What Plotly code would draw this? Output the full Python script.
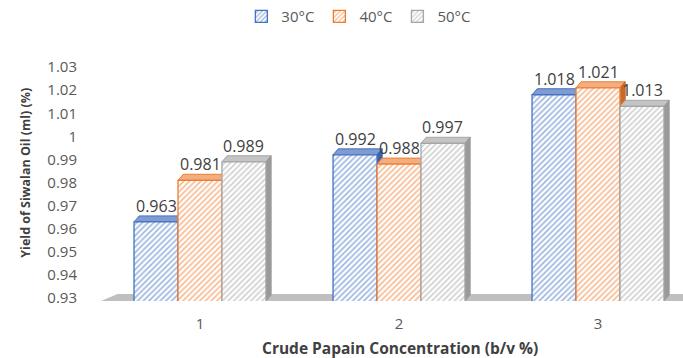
import plotly.graph_objects as go

categories = [1, 2, 3]
series_names = ["30°C", "40°C", "50°C"]
yield_30 = [0.963, 0.992, 1.018]
yield_40 = [0.981, 0.988, 1.021]
yield_50 = [0.989, 0.997, 1.013]
y_ticks = [0.93, 0.94, 0.95, 0.96, 0.97, 0.98, 0.99, 1.00, 1.01, 1.02, 1.03]
y_tick_text = ["0.93", "0.94", "0.95", "0.96", "0.97", "0.98", "0.99", "1", "1.01", "1.02", "1.03"]

series = [yield_30, yield_40, yield_50]
line_colors = ["#4472C4", "#ED7D31", "#A5A5A5"]
light_colors = ["#E4EBF7", "#FDEBDF", "#F2F2F2"]
cap_colors = ["#7F9BD0", "#F2AE80", "#C4C4C4"]
side_colors = ["#3A63AA", "#C9692A", "#9A9A9A"]

bw = 0.221
dx = 0.026   # depth offset in x units
dy = 0.0026  # depth offset in y units
base = 0.9288
font = "Open Sans"

fig = go.Figure()
shapes = []
annotations = []

# floor
shapes.append(dict(type="path", xref="paper", yref="y",
                   path="M 0.03,0.9318 L 1,0.9318 L 1,0.9286 L 0,0.9286 Z",
                   fillcolor="#BFBFBF", line=dict(width=0), layer="below"))

for i, (name, vals) in enumerate(zip(series_names, series)):
    off = -1.5 * bw + i * bw
    fig.add_trace(go.Bar(
        x=categories, y=vals, name=name, width=bw, offset=off,
        marker=dict(color=light_colors[i],
                    line=dict(color=line_colors[i], width=1.3),
                    pattern=dict(shape="/", fgcolor=line_colors[i], bgcolor="white",
                                 size=4, solidity=0.45, fillmode="overlay")),
    ))
    for c, v in zip(categories, vals):
        xl = c + off
        xr = xl + bw
        shapes.append(dict(type="path", xref="x", yref="y", layer="below",
                           path=f"M {xl},{v} L {xl+dx},{v+dy} L {xr+dx},{v+dy} L {xr},{v} Z",
                           fillcolor=cap_colors[i], line=dict(color=line_colors[i], width=1)))
        shapes.append(dict(type="path", xref="x", yref="y", layer="below",
                           path=f"M {xr},{base} L {xr+dx},{base+dy} L {xr+dx},{v+dy} L {xr},{v} Z",
                           fillcolor=side_colors[i], line=dict(color=side_colors[i], width=1)))
        annotations.append(dict(x=xl + bw / 2, y=v, xref="x", yref="y", text=f"{v:.3f}",
                                showarrow=False, yanchor="middle", yshift=16,
                                font=dict(family=font, size=16, color="#404040")))

annotations.append(dict(x=0.515, y=-0.20, xref="paper", yref="paper", yanchor="middle",
                        text="<b>Crude Papain Concentration (b/v %)</b>", showarrow=False,
                        font=dict(family=font, size=15.5, color="#404040")))
annotations.append(dict(x=-0.128, y=0.55, xref="paper", yref="paper", textangle=-90,
                        xanchor="center", yanchor="middle",
                        text="<b>Yield of Siwalan Oil (ml) (%)</b>", showarrow=False,
                        font=dict(family=font, size=12.5, color="#404040")))

fig.update_layout(
    width=683, height=358,
    margin=dict(l=100, r=0, t=63, b=57),
    paper_bgcolor="white", plot_bgcolor="white",
    barmode="overlay",
    shapes=shapes, annotations=annotations,
    showlegend=True,
    legend=dict(orientation="h", x=0.444, xanchor="center", y=1.215, yanchor="middle",
                font=dict(family=font, size=15, color="#595959"),
                itemwidth=30, traceorder="normal", tracegroupgap=0),
    xaxis=dict(range=[0.4975, 3.427], tickvals=categories, ticktext=[str(c) for c in categories],
               showgrid=False, zeroline=False, showline=False, ticks="",
               ticklabelstandoff=12,
               tickfont=dict(family=font, size=15, color="#595959")),
    yaxis=dict(range=[base, 1.03], tickvals=y_ticks, ticktext=y_tick_text,
               showgrid=False, zeroline=False, showline=False, ticks="",
               ticklabelstandoff=22,
               tickfont=dict(family=font, size=15, color="#595959")),
)

fig.write_html("out.html")
